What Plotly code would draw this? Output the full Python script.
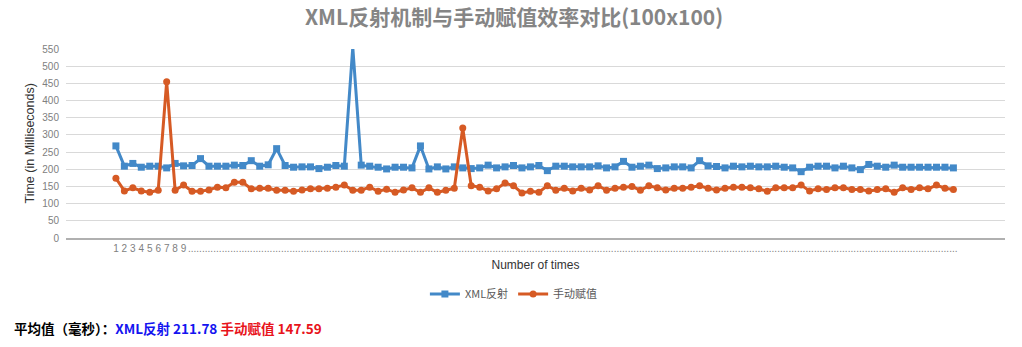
import plotly.graph_objects as go

runs = list(range(1, 101))
tick_labels = [str(i) if i < 10 else "..." for i in runs]

xml_reflect = [268, 209, 217, 206, 209, 209, 204, 217, 210, 211,
               231, 209, 209, 209, 212, 211, 225, 209, 213, 260,
               211, 206, 207, 207, 202, 206, 211, 209, 555, 212,
               209, 206, 201, 206, 206, 204, 268, 201, 207, 201,
               207, 204, 202, 204, 212, 204, 207, 211, 204, 207,
               211, 196, 209, 209, 207, 207, 207, 210, 204, 207,
               223, 206, 209, 212, 202, 204, 207, 207, 204, 225,
               210, 208, 204, 209, 207, 209, 207, 207, 209, 206,
               204, 193, 206, 209, 209, 204, 209, 204, 199, 214,
               209, 206, 212, 206, 206, 206, 206, 206, 206, 204]

manual_assign = [174, 137, 146, 137, 133, 139, 455, 139, 154, 136,
                 136, 140, 148, 146, 162, 162, 143, 145, 145, 139,
                 139, 136, 140, 143, 143, 145, 148, 154, 139, 139,
                 148, 136, 142, 133, 140, 146, 133, 146, 133, 139,
                 145, 320, 152, 148, 137, 143, 160, 152, 131, 136,
                 133, 152, 139, 145, 137, 145, 140, 152, 139, 145,
                 148, 150, 139, 152, 146, 140, 145, 145, 148, 152,
                 145, 140, 145, 148, 148, 146, 143, 136, 146, 146,
                 146, 154, 137, 143, 141, 146, 146, 141, 141, 137,
                 141, 143, 133, 146, 141, 146, 143, 154, 145, 141]

y_ticks = list(range(0, 551, 50))

BLUE = "#4389C8"
ORANGE = "#D65A24"

fig = go.Figure()
fig.add_trace(go.Scatter(
    x=runs, y=xml_reflect, name="XML反射", mode="lines+markers",
    line=dict(color=BLUE, width=3),
    marker=dict(symbol="square", size=7, color=BLUE),
    cliponaxis=False,
))
fig.add_trace(go.Scatter(
    x=runs, y=manual_assign, name="手动赋值", mode="lines+markers",
    line=dict(color=ORANGE, width=3),
    marker=dict(symbol="circle", size=7, color=ORANGE),
    cliponaxis=False,
))

fig.update_layout(
    width=1022, height=347,
    margin=dict(l=66, r=17, t=49, b=109),
    paper_bgcolor="white", plot_bgcolor="white",
    font=dict(family="Liberation Sans, Arial, sans-serif", color="#555"),
    title=dict(
        text="<b>XML反射机制与手动赋值效率对比(100x100)</b>",
        x=0.503, xanchor="center", xref="container",
        y=0.948, yanchor="middle",
        font=dict(family="Noto Sans CJK SC", size=21, color="#858585"),
    ),
    showlegend=True,
    legend=dict(
        orientation="h", x=0.477, xanchor="center", y=-0.296, yanchor="middle",
        font=dict(family="Noto Sans CJK SC, Liberation Sans", size=11, color="#595959"),
        itemwidth=30, tracegroupgap=0,
    ),
)

fig.update_xaxes(
    range=[-4.9, 106.1],
    tickmode="array", tickvals=runs, ticktext=tick_labels,
    tickangle=0,
    tickfont=dict(size=10, color="#808080"),
    showgrid=False, zeroline=False,
    showline=True, linecolor="#B0B0B0", linewidth=1.5,
    ticks="",
    title=dict(text="Number of times", font=dict(size=12, color="#333"), standoff=8),
)
fig.update_yaxes(
    range=[0, 550],
    tickmode="array", tickvals=y_ticks,
    tickfont=dict(size=10, color="#808080"),
    ticklabelstandoff=6,
    showgrid=True, gridcolor="#D9D9D9", gridwidth=1,
    zeroline=False, showline=False, ticks="",
)

fig.add_annotation(
    text="Time (in Milliseconds)", textangle=-90,
    xref="paper", yref="paper", x=-0.0394, y=0.5,
    xanchor="center", yanchor="middle", showarrow=False,
    font=dict(size=12.5, color="#333"),
)

fig.add_annotation(
    text=("<b>平均值（毫秒）：<span style='color:#1414F0'>XML反射 211.78</span> "
          "<span style='color:#E8131B'>手动赋值 147.59</span></b>"),
    xref="paper", yref="paper", x=-0.0575, y=-0.476,
    xanchor="left", yanchor="middle", showarrow=False,
    font=dict(family="Noto Sans CJK SC, Liberation Sans", size=13.5, color="#000"),
)

fig.write_html("out.html")
